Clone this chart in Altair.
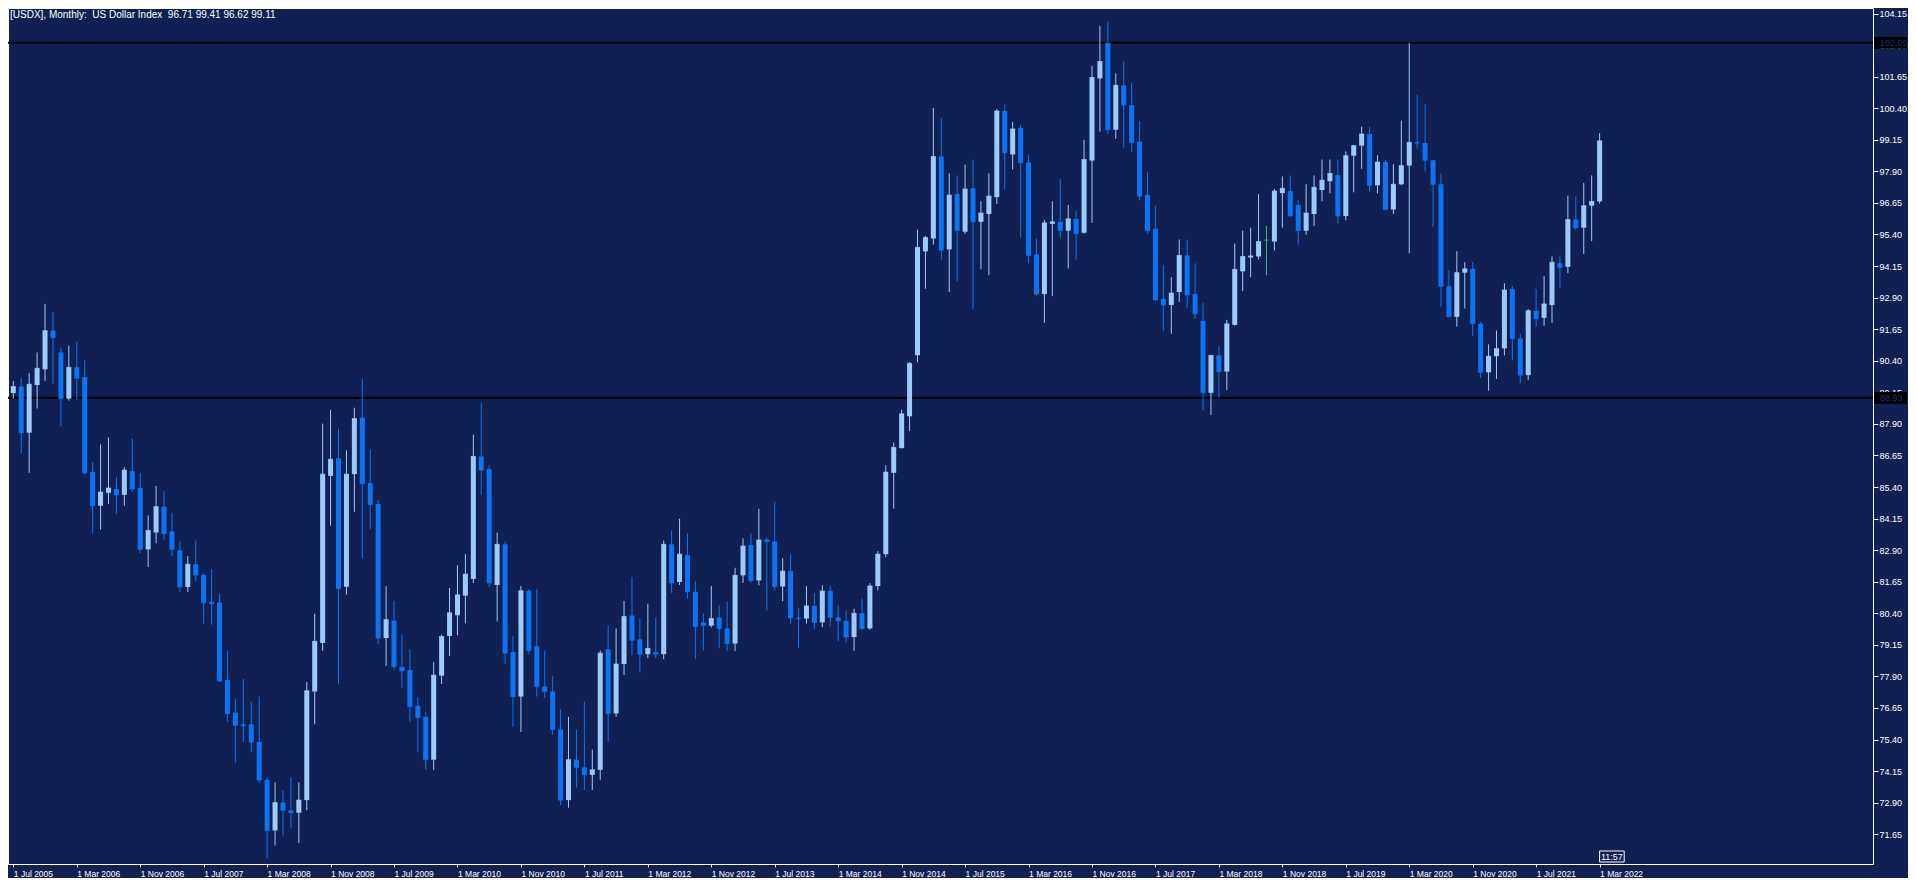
import altair as alt
import pandas as pd

# ---------------- data (monthly USDX candles, Jul 2005 .. Mar 2022) ----------------
opens = [
    89.12, 89.38, 87.55, 89.44, 90.06, 91.59, 90.73, 88.90, 90.14, 89.75,
    85.99, 84.66, 85.17, 85.32, 85.09, 86.03, 85.36, 82.93, 83.60, 84.62,
    83.64, 82.89, 81.44, 82.34, 81.91, 80.85, 80.82, 77.76, 76.47, 76.00,
    76.00, 75.30, 73.80, 71.80, 72.90, 72.60, 72.50, 73.00, 77.30, 79.22,
    85.84, 86.54, 81.45, 85.91, 88.14, 85.56, 84.73, 79.42, 80.11, 78.28,
    78.15, 76.74, 76.30, 74.60, 77.93, 79.50, 80.32, 81.10, 81.76, 86.61,
    86.11, 81.52, 83.13, 78.86, 77.10, 81.29, 79.09, 77.50, 77.30, 75.80,
    73.00, 74.60, 74.30, 74.00, 74.20, 78.97, 76.43, 78.39, 80.31, 79.37,
    78.78, 78.86, 78.78, 83.13, 81.64, 82.70, 81.25, 80.03, 79.91, 80.23,
    79.80, 79.20, 81.90, 83.10, 81.70, 83.32, 83.24, 81.46, 82.07, 80.22,
    80.19, 80.69, 80.04, 81.28, 80.24, 80.10, 79.46, 80.40, 79.80, 81.48,
    82.74, 85.96, 86.94, 88.20, 90.62, 94.73, 95.24, 98.49, 94.81, 97.00,
    95.51, 97.23, 95.90, 96.21, 96.88, 100.29, 98.57, 99.62, 98.25, 94.61,
    93.04, 95.82, 95.90, 95.55, 96.02, 95.47, 98.33, 101.58, 102.99, 99.55,
    101.31, 100.53, 99.08, 96.96, 95.63, 92.84, 92.61, 93.12, 94.57, 93.04,
    91.98, 89.13, 90.61, 89.97, 91.82, 93.94, 94.49, 94.53, 95.18, 95.12,
    97.04, 97.12, 96.57, 95.55, 96.21, 97.16, 97.51, 97.75, 96.13, 98.52,
    98.92, 99.38, 97.35, 98.27, 96.39, 97.39, 98.13, 99.05, 99.02, 98.34,
    97.39, 93.35, 92.14, 93.89, 94.04, 91.87, 89.94, 90.58, 90.89, 93.24,
    91.28, 89.83, 92.38, 92.10, 92.61, 94.26, 94.12, 95.99, 95.67, 96.54,
    96.71,
]
highs = [
    89.60, 89.71, 89.91, 90.73, 92.65, 92.33, 90.92, 91.00, 91.16, 90.42,
    86.38, 87.09, 87.36, 85.79, 86.18, 87.32, 85.95, 84.27, 85.44, 85.24,
    84.38, 83.24, 82.66, 83.28, 81.99, 82.15, 81.17, 78.93, 77.00, 77.80,
    76.90, 77.10, 73.90, 73.70, 73.40, 73.90, 73.70, 77.68, 80.38, 87.91,
    88.46, 87.71, 86.85, 88.54, 89.67, 86.89, 84.89, 81.48, 80.89, 79.56,
    78.97, 77.07, 76.50, 78.46, 79.56, 81.40, 82.30, 82.74, 87.48, 88.73,
    86.26, 83.60, 83.24, 79.50, 81.48, 81.36, 81.36, 78.93, 77.90, 76.60,
    76.30, 75.80, 76.90, 75.00, 78.93, 79.91, 79.80, 80.89, 81.83, 80.19,
    80.78, 80.23, 83.28, 83.67, 84.14, 83.56, 81.68, 80.38, 81.48, 80.70,
    80.85, 82.20, 83.37, 83.56, 84.54, 83.40, 84.81, 82.58, 82.74, 80.61,
    81.48, 81.19, 81.51, 81.48, 80.74, 80.50, 80.58, 80.99, 81.59, 82.86,
    86.26, 87.16, 88.46, 90.34, 95.59, 95.35, 100.41, 100.02, 97.82, 97.74,
    98.17, 98.37, 96.72, 97.82, 100.37, 100.56, 99.86, 99.74, 98.57, 95.24,
    95.98, 96.72, 97.59, 96.57, 96.33, 99.15, 102.09, 103.66, 103.82, 101.78,
    102.25, 101.39, 99.90, 97.86, 96.53, 94.18, 93.71, 95.20, 95.20, 94.26,
    92.69, 90.63, 90.96, 92.02, 95.04, 95.55, 95.67, 97.00, 95.74, 97.20,
    97.70, 97.74, 96.76, 97.39, 97.74, 98.37, 98.37, 98.37, 98.69, 98.93,
    99.67, 99.67, 98.54, 98.35, 98.19, 99.91, 102.99, 100.93, 100.56, 98.35,
    97.80, 93.99, 94.74, 94.30, 94.30, 91.95, 91.05, 91.60, 93.47, 93.35,
    91.47, 92.45, 93.24, 93.75, 94.53, 94.57, 96.94, 96.91, 97.44, 97.74,
    99.41,
]
lows = [
    88.90, 86.74, 85.96, 88.51, 89.60, 89.49, 87.80, 88.82, 88.86, 85.90,
    83.56, 83.72, 84.73, 84.34, 84.66, 85.20, 82.77, 82.23, 83.17, 83.32,
    82.66, 81.25, 81.25, 81.68, 79.99, 79.95, 77.68, 76.10, 74.50, 75.30,
    74.90, 73.70, 70.70, 71.20, 71.60, 71.90, 71.30, 72.60, 76.00, 78.91,
    83.87, 77.61, 81.14, 84.42, 82.59, 83.73, 79.18, 78.32, 78.16, 77.46,
    76.10, 74.90, 74.20, 74.20, 77.60, 78.71, 79.53, 80.00, 81.60, 85.09,
    81.44, 80.07, 78.39, 75.90, 75.70, 78.78, 77.10, 77.05, 75.60, 72.80,
    72.70, 73.50, 73.40, 73.40, 73.80, 75.30, 76.30, 77.95, 78.74, 78.07,
    78.62, 78.62, 78.58, 81.21, 81.52, 80.97, 78.58, 78.93, 79.84, 79.01,
    78.90, 78.90, 81.60, 81.60, 81.50, 80.50, 81.30, 80.88, 79.99, 79.03,
    79.99, 79.77, 79.85, 79.88, 79.29, 79.23, 78.91, 79.75, 79.74, 81.30,
    82.62, 84.54, 86.93, 87.61, 90.34, 93.25, 95.00, 94.41, 93.12, 93.55,
    95.43, 92.45, 94.02, 93.79, 96.61, 97.20, 97.98, 95.27, 94.26, 92.96,
    91.90, 92.96, 95.27, 94.06, 94.41, 95.43, 95.86, 99.47, 99.39, 99.19,
    98.84, 98.68, 96.76, 95.43, 92.77, 91.59, 91.47, 92.73, 92.49, 92.06,
    88.44, 88.25, 88.94, 89.23, 91.79, 93.16, 93.71, 94.41, 93.79, 94.77,
    95.67, 96.10, 95.00, 95.39, 95.74, 96.72, 97.03, 95.84, 95.96, 97.07,
    98.00, 97.10, 97.03, 96.36, 96.21, 97.35, 94.65, 98.80, 97.90, 95.71,
    92.55, 92.13, 91.75, 92.47, 91.38, 89.72, 89.21, 89.68, 90.61, 90.41,
    89.51, 89.63, 91.75, 91.79, 91.90, 93.28, 93.87, 95.57, 94.63, 95.14,
    96.62,
]
closes = [
    89.38, 87.55, 89.47, 90.10, 91.59, 91.32, 88.90, 90.14, 89.71, 85.96,
    84.66, 85.20, 85.36, 85.09, 86.07, 85.32, 82.93, 83.68, 84.62, 83.56,
    82.93, 81.44, 82.34, 81.91, 80.82, 80.78, 77.72, 76.43, 75.96, 75.95,
    75.30, 73.80, 71.80, 72.90, 72.60, 72.50, 73.00, 77.33, 79.29, 85.91,
    86.50, 81.38, 85.91, 88.11, 85.53, 84.71, 79.42, 80.15, 78.28, 78.12,
    76.70, 76.27, 74.60, 77.95, 79.48, 80.42, 81.13, 81.95, 86.61, 86.07,
    81.60, 83.13, 78.82, 77.10, 81.29, 78.93, 77.50, 77.30, 75.80, 73.00,
    74.60, 74.30, 74.00, 74.20, 78.82, 76.43, 78.39, 80.27, 79.33, 78.78,
    79.01, 78.78, 83.13, 81.60, 82.74, 81.25, 79.87, 79.91, 80.19, 79.80,
    79.20, 81.90, 83.06, 81.70, 83.30, 83.24, 81.46, 82.07, 80.22, 80.19,
    80.69, 80.04, 81.28, 80.24, 80.10, 79.46, 80.40, 79.80, 81.48, 82.74,
    85.99, 86.97, 88.30, 90.30, 94.89, 95.28, 98.49, 94.78, 96.96, 95.55,
    97.20, 95.90, 96.25, 96.92, 100.29, 98.64, 99.58, 98.25, 94.57, 93.04,
    95.86, 95.90, 95.55, 96.02, 95.43, 98.37, 101.62, 102.25, 99.55, 101.31,
    100.53, 99.04, 96.92, 95.55, 92.81, 92.61, 93.08, 94.57, 93.00, 92.26,
    89.13, 90.61, 89.97, 91.86, 94.02, 94.53, 94.55, 95.12, 95.18, 97.12,
    97.23, 96.14, 95.55, 96.25, 97.27, 97.55, 97.82, 96.13, 98.52, 98.92,
    99.38, 97.35, 98.27, 96.39, 97.39, 98.13, 99.05, 99.02, 98.34, 97.39,
    93.35, 92.14, 93.89, 94.04, 91.87, 89.94, 90.58, 90.88, 93.20, 91.28,
    89.83, 92.38, 92.06, 92.65, 94.30, 94.10, 95.99, 95.67, 96.54, 96.71,
    99.11,
]

date_labels = [
    "1 Jul 2005", "1 Mar 2006", "1 Nov 2006", "1 Jul 2007", "1 Mar 2008",
    "1 Nov 2008", "1 Jul 2009", "1 Mar 2010", "1 Nov 2010", "1 Jul 2011",
    "1 Mar 2012", "1 Nov 2012", "1 Jul 2013", "1 Mar 2014", "1 Nov 2014",
    "1 Jul 2015", "1 Mar 2016", "1 Nov 2016", "1 Jul 2017", "1 Mar 2018",
    "1 Nov 2018", "1 Jul 2019", "1 Mar 2020", "1 Nov 2020", "1 Jul 2021",
    "1 Mar 2022",
]
date_label_index = [0, 8, 16, 24, 32, 40, 48, 56, 64, 72, 80, 88, 96, 104,
                    112, 120, 128, 136, 144, 152, 160, 168, 176, 184, 192, 200]
price_ticks = [71.65, 72.90, 74.15, 75.40, 76.65, 77.90, 79.15, 80.40, 81.65,
               82.90, 84.15, 85.40, 86.65, 87.90, 89.15, 90.40, 91.65, 92.90,
               94.15, 95.40, 96.65, 97.90, 99.15, 100.40, 101.65, 102.90, 104.15]
levels = [102.99, 88.93]
symbol = "[USDX]"
timeframe = "Monthly"
description = "US Dollar Index"
countdown = "11:57"

# ---------------- style ----------------
W, H = 1865, 856
BG = "#112053"
BULL = "#9CCBFA"
BEAR = "#0C74F2"
DOJI = "#3CB878"
FONT = "Liberation Sans"
NB = "\u00a0"

df = pd.DataFrame({"k": list(range(len(opens))), "o": opens, "h": highs,
                   "l": lows, "c": closes})

xs = alt.Scale(domain=[-0.04, 233.84], nice=False, zero=False)
ys = alt.Scale(domain=[70.47, 104.37], nice=False, zero=False)

label_expr = ("[" + ",".join("'%s'" % s for s in date_labels) + "]"
              "[round(datum.value / 8)]")
x_axis = alt.Axis(values=date_label_index, labelExpr=label_expr, title=None,
                  grid=False, domain=False, ticks=True, tickSize=3,
                  tickColor="white", labelColor="white", labelFont=FONT,
                  labelFontSize=8.5, labelAlign="left", labelBaseline="top",
                  labelPadding=2, labelOffset=0, labelOverlap=False)
y_axis = alt.Axis(values=price_ticks, format=".2f", title=None, orient="right",
                  grid=False, domain=False, ticks=True, tickSize=5,
                  tickColor="white", labelColor="white", labelFont=FONT,
                  labelFontSize=9, labelPadding=1, labelBaseline="middle",
                  labelOverlap=False)

X = alt.X("k:Q", scale=xs, axis=x_axis)

base = alt.Chart(df).transform_calculate(
    dir="datum.c > datum.o ? 'bull' : (datum.c < datum.o ? 'bear' : 'doji')"
)
color = alt.Color("dir:N", legend=None,
                  scale=alt.Scale(domain=["bull", "bear", "doji"],
                                  range=[BULL, BEAR, DOJI]))

wicks = base.mark_rule(strokeWidth=1).encode(
    x=X, y=alt.Y("l:Q", scale=ys, axis=y_axis), y2="h:Q", color=color)
bodies = base.mark_bar(size=5).encode(
    x=X, y=alt.Y("o:Q", scale=ys, axis=y_axis), y2="c:Q", color=color)
flat = base.mark_tick(orient="horizontal", size=5, thickness=1).encode(
    x=X, y=alt.Y("c:Q", scale=ys, axis=y_axis), color=color)

lv = pd.DataFrame({"lvl": levels})
level_lines = alt.Chart(lv).mark_rule(color="black", strokeWidth=2).encode(
    y=alt.Y("lvl:Q", scale=ys, axis=y_axis))
level_boxes = alt.Chart(lv).transform_calculate(
    lo="datum.lvl - 0.23", hi="datum.lvl + 0.23"
).mark_rect(color="black").encode(
    x=alt.value(W + 1), x2=alt.value(W + 34),
    y=alt.Y("lo:Q", scale=ys, axis=y_axis), y2="hi:Q")
level_text = alt.Chart(lv).mark_text(
    align="left", baseline="middle", font=FONT, fontSize=9, color="#1E3278"
).encode(x=alt.value(W + 7), y=alt.Y("lvl:Q", scale=ys, axis=y_axis),
         text=alt.Text("lvl:Q", format=".2f"))

title_txt = "%s, %s:%s%s%s%s%.2f %.2f %.2f %.2f" % (
    symbol, timeframe, NB + " ", description, NB + " ", "",
    opens[-1], highs[-1], lows[-1], closes[-1])
title = alt.Chart(pd.DataFrame({"t": [title_txt]})).mark_text(
    align="left", baseline="middle", font=FONT, fontSize=10, color="white"
).encode(x=alt.value(2), y=alt.value(7), text="t:N")

cd = pd.DataFrame({"k": [len(opens) - 1], "t": [countdown]})
cd_box = alt.Chart(cd).transform_calculate(k2="datum.k + 3.1").mark_rect(
    fill=BG, stroke="white", strokeWidth=1
).encode(x=X, x2="k2:Q", y=alt.value(H - 13), y2=alt.value(H - 2))
cd_text = alt.Chart(cd).transform_calculate(km="datum.k + 1.55").mark_text(
    align="center", baseline="middle", font=FONT, fontSize=9, color="white"
).encode(x=alt.X("km:Q", scale=xs, axis=x_axis), y=alt.value(H - 7.5), text="t:N")

chart = alt.layer(
    level_lines, wicks, bodies, flat, level_boxes, level_text, title, cd_box, cd_text
).resolve_scale(color="shared").properties(
    width=W, height=H,
    padding={"left": 0, "top": 0, "right": 35, "bottom": 14},
    autosize=alt.AutoSizeParams(type="none"),
    background=BG,
).configure_view(stroke="white", strokeWidth=1)

chart.save("out.html", embed_options={"renderer": "svg", "actions": False})
